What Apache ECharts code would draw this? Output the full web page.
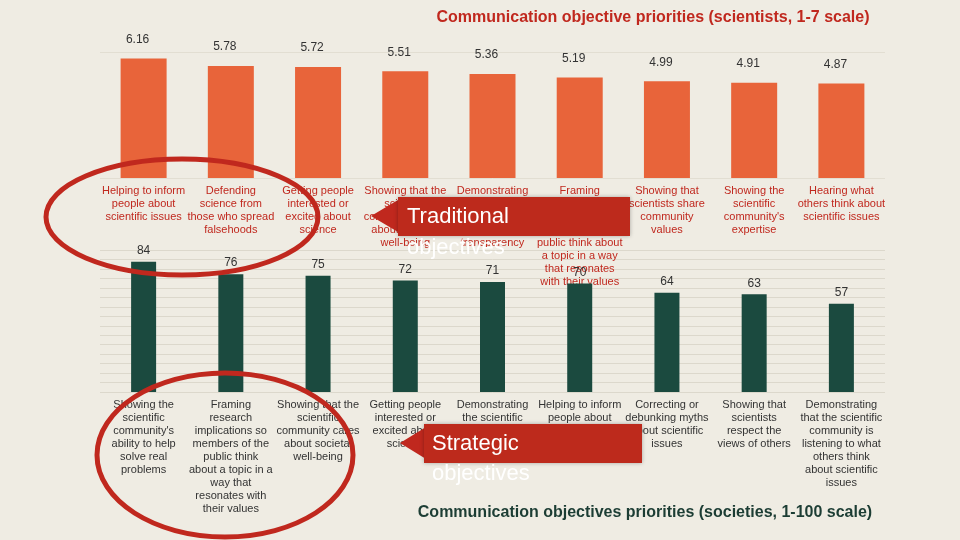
<!DOCTYPE html><html><head><meta charset="utf-8">
<script src="https://cdn.jsdelivr.net/npm/echarts@6/dist/echarts.min.js"></script>
<style>html,body{margin:0;background:#efece3}#c{width:960px;height:540px}</style></head><body><div id="c"></div>
<script>
const sciCategories=["Helping to inform\npeople about\nscientific issues","Defending\nscience from\nthose who spread\nfalsehoods","Getting people\ninterested or\nexcited about\nscience","Showing that the\nscientific\ncommunity cares\nabout societal\nwell-being","Demonstrating\nthe scientific\ncommunity's\ncommitment to\ntransparency","Framing\nresearch\nimplications so\nmembers of the\npublic think about\na topic in a way\nthat resonates\nwith their values","Showing that\nscientists share\ncommunity\nvalues","Showing the\nscientific\ncommunity's\nexpertise","Hearing what\nothers think about\nscientific issues"];
const sciValues=[6.16,5.78,5.72,5.51,5.36,5.19,4.99,4.91,4.87];
const socCategories=["Showing the\nscientific\ncommunity's\nability to help\nsolve real\nproblems","Framing\nresearch\nimplications so\nmembers of the\npublic think\nabout a topic in a\nway that\nresonates with\ntheir values","Showing that the\nscientific\ncommunity cares\nabout societal\nwell-being","Getting people\ninterested or\nexcited about\nscience","Demonstrating\nthe scientific\ncommunity's\ncommitment to\ntransparency","Helping to inform\npeople about\nscientific issues","Correcting or\ndebunking myths\nabout scientific\nissues","Showing that\nscientists\nrespect the\nviews of others","Demonstrating\nthat the scientific\ncommunity is\nlistening to what\nothers think\nabout scientific\nissues"];
const socValues=[84,76,75,72,71,70,64,63,57];
const F="Liberation Sans Narrow, Liberation Sans, sans-serif";
const ch=echarts.init(document.getElementById('c'));
const lbl=(c)=>({show:true,color:c,fontSize:11,fontFamily:F,lineHeight:13,interval:0,margin:6,verticalAlign:'top'});
ch.setOption({
 backgroundColor:'#efece3',
 title:[{text:'Communication objective priorities (scientists, 1-7 scale)',left:648,top:5,textAlign:'center',textStyle:{color:'#c0281e',fontSize:16,fontWeight:'bold',fontFamily:'Liberation Sans'}},
  {text:'Communication objectives priorities (societies, 1-100 scale)',left:640,top:500,textAlign:'center',textStyle:{color:'#1c3d34',fontSize:16,fontWeight:'bold',fontFamily:'Liberation Sans'}}],
 grid:[{left:100,right:75,top:52,height:126},{left:100,right:75,top:250,height:142}],
 xAxis:[{gridIndex:0,type:'category',data:sciCategories,axisLine:{show:false},axisTick:{show:false},axisLabel:lbl('#c0281e')},
  {gridIndex:1,type:'category',data:socCategories,axisLine:{show:false},axisTick:{show:false},axisLabel:lbl('#333')}],
 yAxis:[{gridIndex:0,min:0,max:6.5,interval:6.5,axisLabel:{show:false},splitLine:{lineStyle:{color:'#e2ded2'}}},
  {gridIndex:1,min:0,max:91.6,interval:6.1,axisLabel:{show:false},splitLine:{lineStyle:{color:'#dcd8cc'}}}],
 series:[{type:'bar',xAxisIndex:0,yAxisIndex:0,data:sciValues,barWidth:46,itemStyle:{color:'#e8643a'},
   label:{show:true,position:'top',offset:[-6,-8],color:'#333',fontSize:12,fontFamily:F}},
  {type:'bar',xAxisIndex:1,yAxisIndex:1,data:socValues,barWidth:25,itemStyle:{color:'#1b4a3f'},
   label:{show:true,position:'top',color:'#333',fontSize:12,fontFamily:F}}],
 graphic:[
  {type:'ellipse',shape:{cx:182,cy:217,rx:136,ry:58},style:{fill:'none',stroke:'#c0281e',lineWidth:5},z:50},
  {type:'ellipse',shape:{cx:225,cy:455,rx:128,ry:82},style:{fill:'none',stroke:'#c0281e',lineWidth:5},z:50},
  {type:'polygon',shape:{points:[[371,216],[398,200],[398,232]]},style:{fill:'#c0281e'},z:50},
  {type:'rect',shape:{x:398,y:197,width:232,height:39},style:{fill:'#bd2a1c',shadowBlur:4,shadowColor:'rgba(0,0,0,0.3)'},z:50},
  {type:'text',left:407,top:201,style:{text:'Traditional\nobjectives',fill:'#fff',font:'22px Liberation Sans',lineHeight:31},z:51},
  {type:'polygon',shape:{points:[[400,443],[426,427],[426,459]]},style:{fill:'#c0281e'},z:50},
  {type:'rect',shape:{x:424,y:424,width:218,height:39},style:{fill:'#bd2a1c',shadowBlur:4,shadowColor:'rgba(0,0,0,0.3)'},z:50},
  {type:'text',left:432,top:429,style:{text:'Strategic\nobjectives',fill:'#fff',font:'22px Liberation Sans',lineHeight:30},z:51}
 ]
});
</script></body></html>
